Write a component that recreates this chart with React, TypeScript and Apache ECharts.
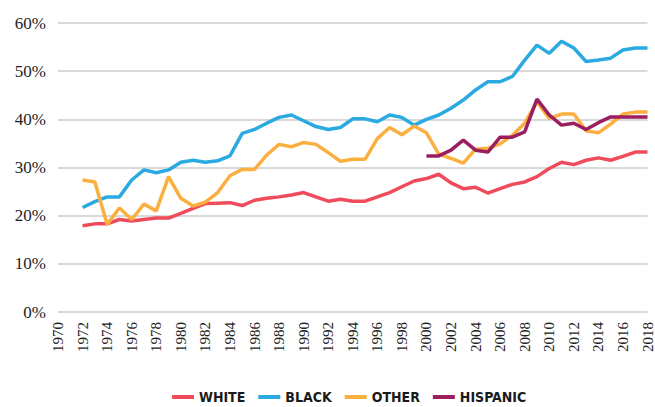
import React, { useEffect, useRef } from "react";
import * as echarts from "echarts";

const years: string[] = [];
for (let y = 1970; y <= 2018; y++) years.push(String(y));

// values per year 1970..2018 (null = no data)
const white = [
  null, null, 17.9, 18.3, 18.3, 19.2, 18.9, 19.2, 19.5, 19.5,
  20.5, 21.5, 22.5, 22.6, 22.7, 22.1, 23.2, 23.6, 23.9, 24.3,
  24.8, 23.9, 23.0, 23.4, 23.0, 23.0, 23.9, 24.8, 26.0, 27.2,
  27.7, 28.6, 26.8, 25.6, 25.9, 24.7, 25.6, 26.5, 27.0, 28.1,
  29.8, 31.1, 30.6, 31.5, 32.0, 31.5, 32.3, 33.2, 33.2,
];
const black = [
  null, null, 21.7, 22.9, 23.9, 23.9, 27.4, 29.5, 28.9, 29.5,
  31.1, 31.5, 31.1, 31.4, 32.4, 37.1, 37.9, 39.2, 40.4, 40.9,
  39.7, 38.5, 37.9, 38.3, 40.1, 40.1, 39.5, 40.9, 40.4, 38.8,
  40.0, 40.9, 42.3, 44.0, 46.1, 47.8, 47.8, 48.9, 52.3, 55.4,
  53.7, 56.2, 54.8, 52.0, 52.3, 52.7, 54.4, 54.8, 54.8,
];
const other = [
  null, null, 27.4, 27.0, 18.2, 21.6, 19.2, 22.4, 21.0, 28.1,
  23.6, 22.0, 22.8, 24.8, 28.3, 29.6, 29.6, 32.6, 34.8, 34.3,
  35.2, 34.8, 33.1, 31.3, 31.7, 31.7, 36.0, 38.3, 36.8, 38.6,
  37.2, 32.8, 31.9, 30.9, 33.8, 34.0, 34.9, 36.7, 39.2, 43.6,
  40.2, 41.1, 41.1, 37.6, 37.2, 39.0, 41.1, 41.5, 41.5,
];
const hispanic = [
  null, null, null, null, null, null, null, null, null, null,
  null, null, null, null, null, null, null, null, null, null,
  null, null, null, null, null, null, null, null, null, null,
  32.4, 32.4, 33.6, 35.7, 33.6, 33.2, 36.3, 36.3, 37.4, 44.2,
  40.9, 38.8, 39.2, 37.9, 39.3, 40.5, 40.5, 40.5, 40.5,
];

const seriesNames = ["WHITE", "BLACK", "OTHER", "HISPANIC"];
const seriesData = [white, black, other, hispanic];
const colors = ["#EF4B5B", "#2AAAE1", "#FBAF3F", "#9B1F5F"];

const serif = "'Liberation Serif', 'Times New Roman', serif";
const narrow = "'Liberation Sans Narrow', 'DejaVu Sans Condensed', 'Liberation Sans', sans-serif";

export default function App() {
  const ref = useRef<HTMLDivElement>(null);
  useEffect(() => {
    if (!ref.current) return;
    const chart = echarts.init(ref.current, undefined, { renderer: "svg" });
    chart.setOption({
      animation: false,
      backgroundColor: "#ffffff",
      grid: { left: 58, right: 5, top: 23, bottom: 95 },
      legend: {
        bottom: 3,
        left: 172,
        padding: 0,
        itemWidth: 22,
        itemHeight: 4,
        itemGap: 13,
        icon: "rect",
        data: seriesNames,
        textStyle: {
          fontFamily: narrow,
          fontWeight: "bold",
          fontSize: 14,
          color: "#1a1a1a",
        },
      },
      xAxis: {
        type: "category",
        data: years,
        boundaryGap: false,
        axisLine: { show: false },
        axisTick: { show: false },
        axisLabel: {
          interval: 1,
          rotate: 90,
          margin: 10,
          fontFamily: serif,
          fontSize: 15,
          color: "#222",
        },
      },
      yAxis: {
        type: "value",
        min: 0,
        max: 60,
        interval: 10,
        axisLine: { show: false },
        axisTick: { show: false },
        axisLabel: {
          formatter: "{value}%",
          margin: 12,
          fontFamily: serif,
          fontSize: 17,
          color: "#222",
        },
        splitLine: { lineStyle: { color: "#d9d9d9", width: 2 } },
      },
      series: seriesNames.map((name, i) => ({
        name,
        type: "line",
        data: seriesData[i],
        symbol: "none",
        connectNulls: false,
        lineStyle: { color: colors[i], width: 3.5 },
        itemStyle: { color: colors[i] },
      })),
    });
    return () => chart.dispose();
  }, []);
  return (
    <div
      ref={ref}
      style={{ position: "absolute", left: 0, top: 0, width: 655, height: 407 }}
    />
  );
}
